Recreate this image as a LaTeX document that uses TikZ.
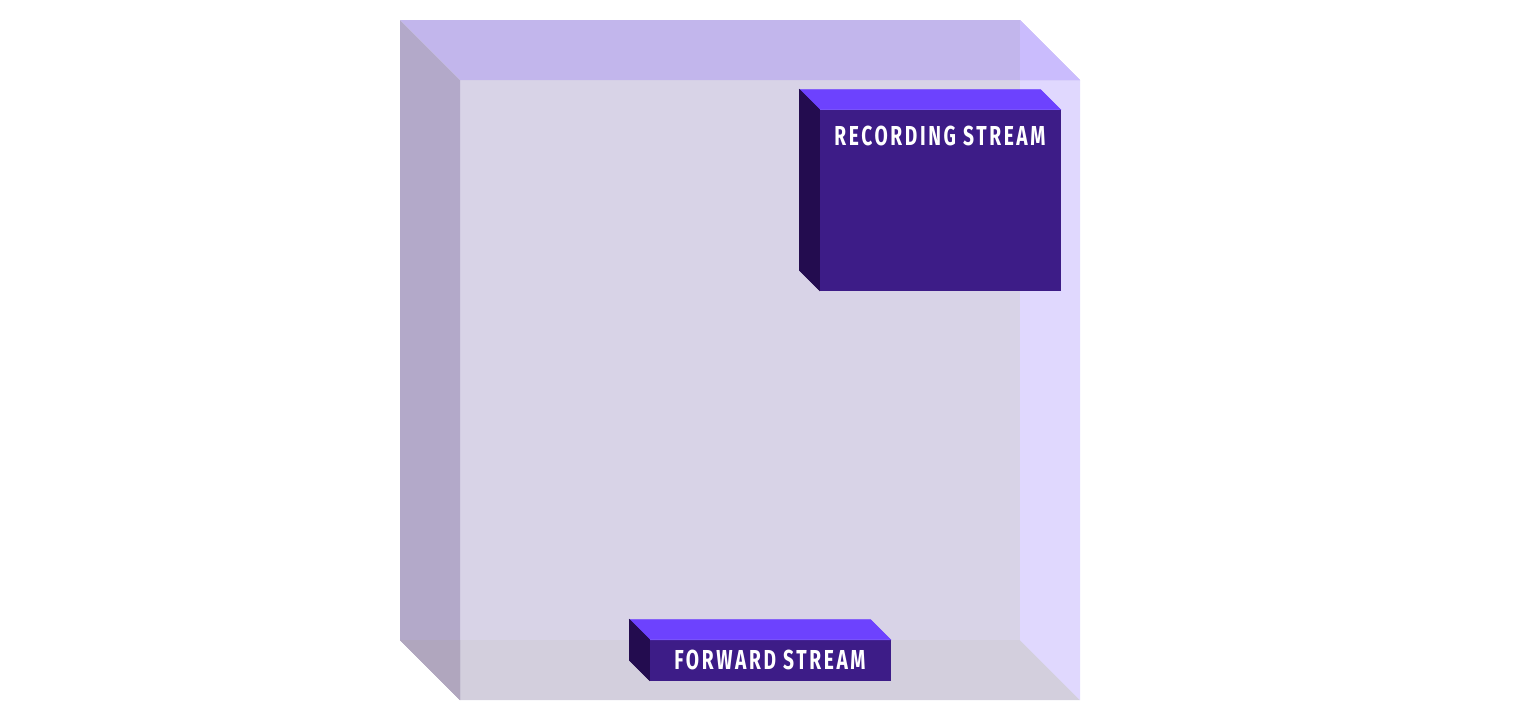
\documentclass[tikz,border=0pt]{standalone}
\usepackage{fontspec}
\usepackage{tikz}
\usetikzlibrary{positioning}
\newfontfamily\streamfont[FakeStretch=0.7,LetterSpace=9.5]{Fira Sans}
\definecolor{cubetop}{HTML}{C2B6EC}
\definecolor{cubetopright}{HTML}{CABCFD}
\definecolor{cubeleft}{HTML}{B3A9C9}
\definecolor{cubeleftlow}{HTML}{B0A6BE}
\definecolor{cubefront}{HTML}{D8D3E7}
\definecolor{cuberight}{HTML}{E0D8FE}
\definecolor{cubebottom}{HTML}{D3CFDD}
\definecolor{streamfront}{HTML}{3D1C87}
\definecolor{streamtop}{HTML}{6D42FE}
\definecolor{streamside}{HTML}{230C4F}
\tikzset{
    %Define style for stream boxes
    streambox/.style={
           rectangle,
           fill=streamfront,
           draw=streamfront, line width=0.2pt,
           minimum width=2.4cm,
           inner sep=0pt,
           text=white,
           font=\streamfont\bfseries\fontsize{7.8}{8}\selectfont,
           text centered},
    streamtopface/.style={fill=streamtop, draw=streamtop, line width=0.2pt},
    streamsideface/.style={fill=streamside, draw=streamside, line width=0.2pt}
}

\begin{document}
\begin{tikzpicture}[x=0.01cm,y=-0.01cm]
\useasboundingbox (0,0) rectangle (1520,720);
% cube corners
\coordinate (btl) at (400,20);
\coordinate (btr) at (1020,20);
\coordinate (bbl) at (400,640);
\coordinate (bbr) at (1020,640);
\coordinate (ftl) at (460,80);
\coordinate (ftr) at (1080,80);
\coordinate (fbl) at (460,700);
\coordinate (fbr) at (1080,700);
% cube faces
\fill[cubefront] (ftl) rectangle (fbr);
\fill[cubebottom] (bbl) -- (bbr) -- (fbr) -- (fbl) -- cycle;
\fill[cuberight] (btr) -- (ftr) -- (fbr) -- (bbr) -- cycle;
\fill[cubetop] (btl) -- (btr) -- (ftr) -- (ftl) -- cycle;
\fill[cubetopright] (btr) -- (ftr) -- (1020,80) -- cycle;
\fill[cubeleft] (btl) -- (ftl) -- (fbl) -- (bbl) -- cycle;
\fill[cubeleftlow] (bbl) -- (fbl) -- (460,640) -- cycle;
% recording stream
\node[streambox, minimum height=1.8cm](rec) at (940,200){};
\node[below=0.04cm of rec.north, text=white, font=\streamfont\bfseries\fontsize{7.8}{8}\selectfont](rectext){RECORDING STREAM};
\path[streamtopface] (rec.north west) -- ++(-20,-20) -- ([shift={(-20,-20)}]rec.north east) -- (rec.north east) -- cycle;
\path[streamsideface] (rec.north west) -- ++(-20,-20) -- ([shift={(-20,-20)}]rec.south west) -- (rec.south west) -- cycle;
% forward stream
\node[streambox, minimum height=0.4cm](fwd) at (770,660){FORWARD STREAM};
\path[streamtopface] (fwd.north west) -- ++(-20,-20) -- ([shift={(-20,-20)}]fwd.north east) -- (fwd.north east) -- cycle;
\path[streamsideface] (fwd.north west) -- ++(-20,-20) -- ([shift={(-20,-20)}]fwd.south west) -- (fwd.south west) -- cycle;
\end{tikzpicture}
\end{document}
